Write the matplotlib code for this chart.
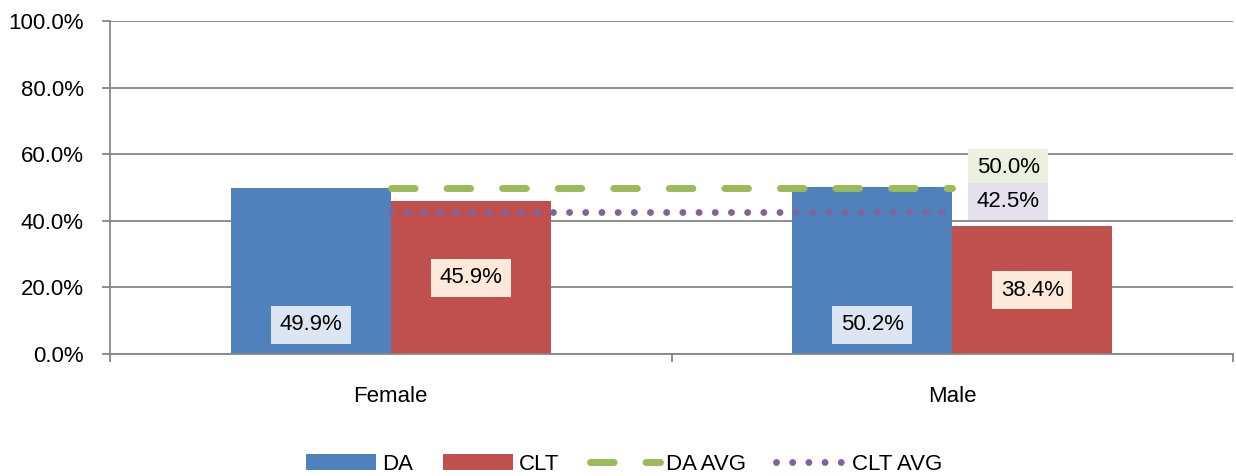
import matplotlib
matplotlib.use("Agg")
import matplotlib.pyplot as plt
import numpy as np
from matplotlib.ticker import FixedLocator, FuncFormatter

categories = ["Female", "Male"]
da = [49.9, 50.2]
clt = [45.9, 38.4]
da_avg = [50.0, 50.0]
clt_avg = [42.5, 42.5]
yticks = [0, 20, 40, 60, 80, 100]

C_DA = "#4f81bd"
C_CLT = "#c0504d"
C_DAAVG = "#9bbb59"
C_CLTAVG = "#8064a2"
GRID = "#868686"

plt.rcParams["font.family"] = ["Liberation Sans", "DejaVu Sans"]
FS = 16

fig = plt.figure(figsize=(12.36, 4.76), dpi=100)
ax = fig.add_axes([110 / 1236, 122 / 476, 1123 / 1236, 333 / 476])

x = np.arange(len(categories))
w = 0.285
b1 = ax.bar(x - w / 2, da, w, color=C_DA, label="DA", zorder=2)
b2 = ax.bar(x + w / 2, clt, w, color=C_CLT, label="CLT", zorder=2)

ax.plot(x, da_avg, color=C_DAAVG, lw=5.0, ls=(0, (3.4, 4.6)),
        dash_capstyle="round", label="DA AVG", zorder=3)
ax.plot(x, clt_avg, color=C_CLTAVG, lw=5.0, ls=(0, (0.001, 2.33)),
        dash_capstyle="round", label="CLT AVG", zorder=3)

PAD = "square,pad=0.38"
# bar labels
for xi, v in zip(x - w / 2, da):
    ax.annotate(f"{v:.1f}%", xy=(xi, 0), xytext=(0, 29), textcoords="offset pixels",
                ha="center", va="center", fontsize=FS, color="black", zorder=5,
                bbox=dict(boxstyle=PAD, fc="#dce6f2", ec="none"))
for xi, v in zip(x + w / 2, clt):
    ax.annotate(f"{v:.1f}%", xy=(xi, v / 2), ha="center", va="center",
                fontsize=FS, color="black", zorder=5,
                bbox=dict(boxstyle=PAD, fc="#fde9d9", ec="none"))

# average labels at the last point
ax.annotate(f"{da_avg[-1]:.1f}%", xy=(x[-1], da_avg[-1]), xytext=(56, 20),
            textcoords="offset pixels", ha="center", va="center", fontsize=FS,
            zorder=5, bbox=dict(boxstyle=PAD, fc="#ebf1de", ec="none"))
ax.annotate(f"{clt_avg[-1]:.1f}%", xy=(x[-1], clt_avg[-1]), xytext=(56, 11),
            textcoords="offset pixels", ha="center", va="center", fontsize=FS,
            zorder=6, bbox=dict(boxstyle=PAD, fc="#e5e0ec", ec="none"))

ax.set_xlim(-0.5, len(categories) - 0.5)
ax.set_ylim(0, 100)
ax.yaxis.set_major_locator(FixedLocator(yticks))
ax.yaxis.set_major_formatter(FuncFormatter(lambda v, p: f"{v:.1f}%"))
ax.set_xticks(x)
ax.set_xticklabels(categories)
ax.set_xticks(np.arange(-0.5, len(categories)), minor=True)
ax.tick_params(axis="x", which="major", length=0, pad=23, labelsize=FS)
ax.tick_params(axis="x", which="minor", length=6, width=1.3, color=GRID, direction="out")
ax.tick_params(axis="y", length=6, width=1.3, color=GRID, pad=13, labelsize=FS)

ax.grid(axis="y", color=GRID, lw=1.3, zorder=0)
ax.set_axisbelow(True)
for s in ["top", "right"]:
    ax.spines[s].set_visible(False)
for s in ["left", "bottom"]:
    ax.spines[s].set_color(GRID)
    ax.spines[s].set_linewidth(1.3)

fig.legend(handles=[b1, b2, ax.lines[0], ax.lines[1]],
           labels=["DA", "CLT", "DA AVG", "CLT AVG"],
           loc="center", bbox_to_anchor=(0.505, 12 / 476), ncol=4, frameon=False,
           fontsize=FS, handlelength=3.15, handleheight=0.7, handletextpad=0.27,
           columnspacing=1.35, borderpad=0)

fig.savefig("out.png", dpi=100)
